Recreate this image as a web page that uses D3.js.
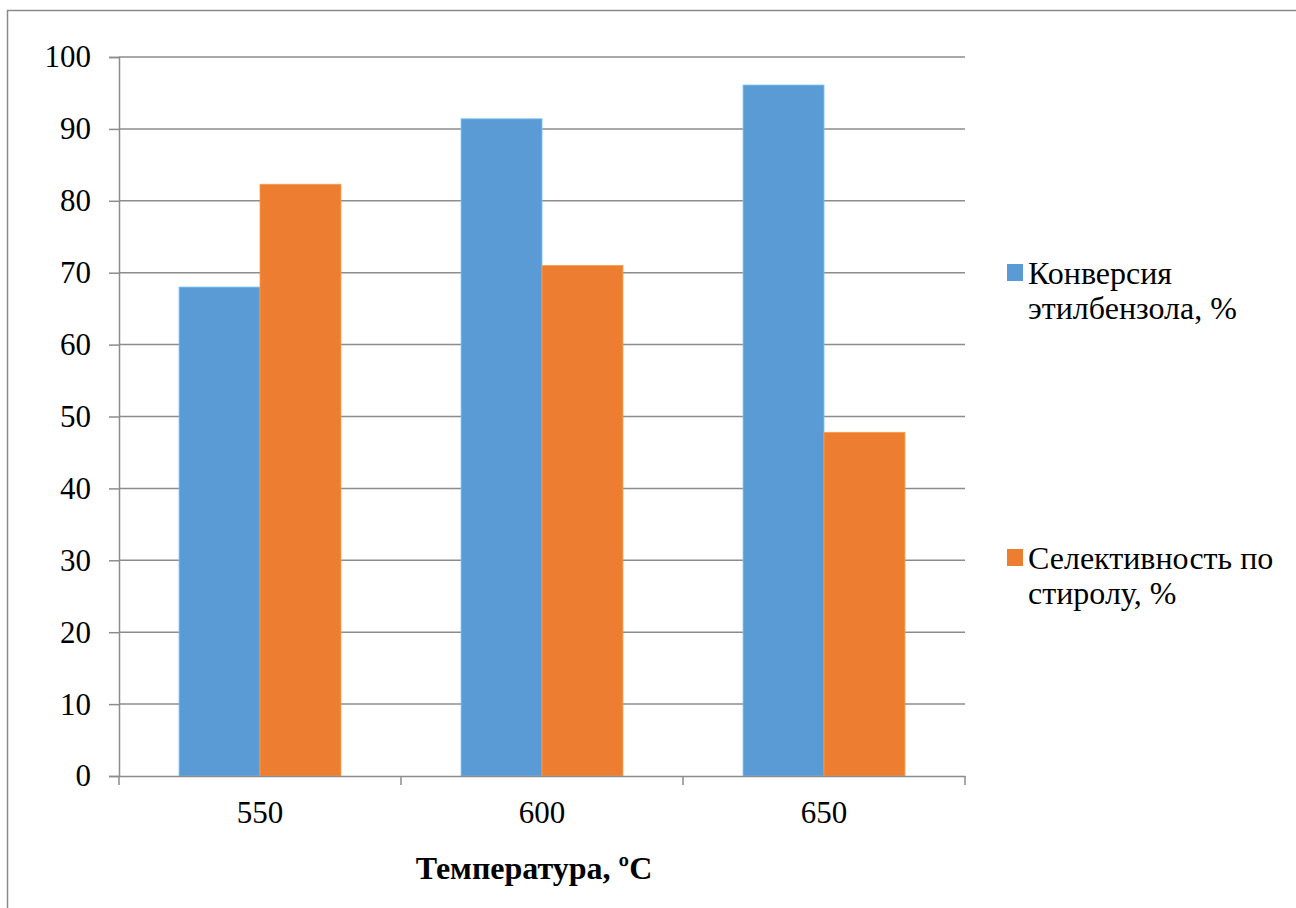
<!DOCTYPE html>
<html>
<head>
<meta charset="utf-8">
<script src="https://cdn.jsdelivr.net/npm/d3@7"></script>
<style>
  body { margin: 0; background: #fff; }
</style>
</head>
<body>
<div id="chart"></div>
<script>
// Data
var temperatures = ["550", "600", "650"];
var seriesNames = [["Конверсия", "этилбензола, %"], ["Селективность по", "стиролу, %"]];
var conversion = [68.0, 91.4, 96.1];
var selectivity = [82.3, 71.0, 47.8];
var yTicks = [0, 10, 20, 30, 40, 50, 60, 70, 80, 90, 100];
var colors = ["#5B9BD5", "#ED7D31"];

var FONT = "'Times New Roman', 'Liberation Serif', serif";
var W = 1296, H = 908;
var margin = {top: 57, left: 119},
    width = 846,
    height = 719;

var svg = d3.select("#chart").append("svg")
    .attr("width", W)
    .attr("height", H);

// outer chart border (right and bottom edges fall outside the picture)
svg.append("rect")
    .attr("x", 7.5).attr("y", 10.5)
    .attr("width", W + 20).attr("height", H + 20)
    .attr("fill", "none")
    .attr("stroke", "#8a8a8a")
    .attr("stroke-width", 1.5);

var g = svg.append("g")
    .attr("transform", "translate(" + margin.left + "," + margin.top + ")");

var x = d3.scaleBand().domain(temperatures).range([0, width]);
var y = d3.scaleLinear().domain([0, 100]).range([height, 0]);
var barW = x.bandwidth() * 0.287;

// gridlines
g.selectAll(".grid")
    .data(yTicks.slice(1))
    .enter().append("line")
      .attr("x1", 0).attr("x2", width)
      .attr("y1", function(d) { return y(d); })
      .attr("y2", function(d) { return y(d); })
      .attr("stroke", "#8c8c8c")
      .attr("stroke-width", 1.5);

// bars
var series = [conversion, selectivity];
series.forEach(function(vals, si) {
  g.selectAll(".bar" + si)
      .data(vals)
      .enter().append("rect")
        .attr("x", function(d, i) { return x(temperatures[i]) + x.bandwidth() / 2 - barW + si * barW; })
        .attr("y", function(d) { return y(d); })
        .attr("width", barW)
        .attr("height", function(d) { return height - y(d); })
        .attr("fill", colors[si])
        .attr("stroke", d3.color(colors[si]).brighter(0.6))
        .attr("stroke-width", 0.8);
});

// y axis
var yAxis = g.append("g")
    .call(d3.axisLeft(y).tickValues(yTicks).tickSize(10).tickPadding(18).tickFormat(d3.format("d")));
yAxis.attr("font-family", null);
yAxis.select(".domain").attr("stroke", "#8c8c8c").attr("stroke-width", 1.5);
yAxis.selectAll(".tick line").attr("stroke", "#8c8c8c").attr("stroke-width", 1.5);
yAxis.selectAll("text")
    .style("font-family", FONT).style("font-size", "31px").style("fill", "#000");

// x axis
var xAxis = g.append("g")
    .attr("transform", "translate(0," + height + ")")
    .call(d3.axisBottom(x).tickSize(0).tickPadding(25));
xAxis.attr("font-family", null);
xAxis.select(".domain").attr("stroke", "#8c8c8c").attr("stroke-width", 1.5);
xAxis.selectAll("text")
    .style("font-family", FONT).style("font-size", "31px").style("fill", "#000");

// category separator ticks
g.selectAll(".xtick")
    .data(d3.range(temperatures.length + 1))
    .enter().append("line")
      .attr("x1", function(i) { return i * x.step(); })
      .attr("x2", function(i) { return i * x.step(); })
      .attr("y1", height).attr("y2", height + 9)
      .attr("stroke", "#8c8c8c")
      .attr("stroke-width", 1.5);

// x axis title
svg.append("text")
    .attr("x", 534)
    .attr("y", 879)
    .attr("text-anchor", "middle")
    .style("font-family", FONT)
    .style("font-size", "32px")
    .style("font-weight", "bold")
    .text("Температура, ºC");

// legend
var legendY = [264, 549];
var legend = svg.selectAll(".legend")
    .data(seriesNames)
    .enter().append("g")
      .attr("transform", function(d, i) { return "translate(1007," + legendY[i] + ")"; });
legend.append("rect")
    .attr("width", 16).attr("height", 17)
    .attr("fill", function(d, i) { return colors[i]; });
legend.append("text")
    .attr("x", 21)
    .attr("y", 20)
    .style("font-family", FONT)
    .style("font-size", "32px")
    .selectAll("tspan")
    .data(function(d) { return d; })
    .enter().append("tspan")
      .attr("x", 21)
      .attr("dy", function(d, i) { return i === 0 ? 0 : 35; })
      .text(function(d) { return d; });
</script>
</body>
</html>
